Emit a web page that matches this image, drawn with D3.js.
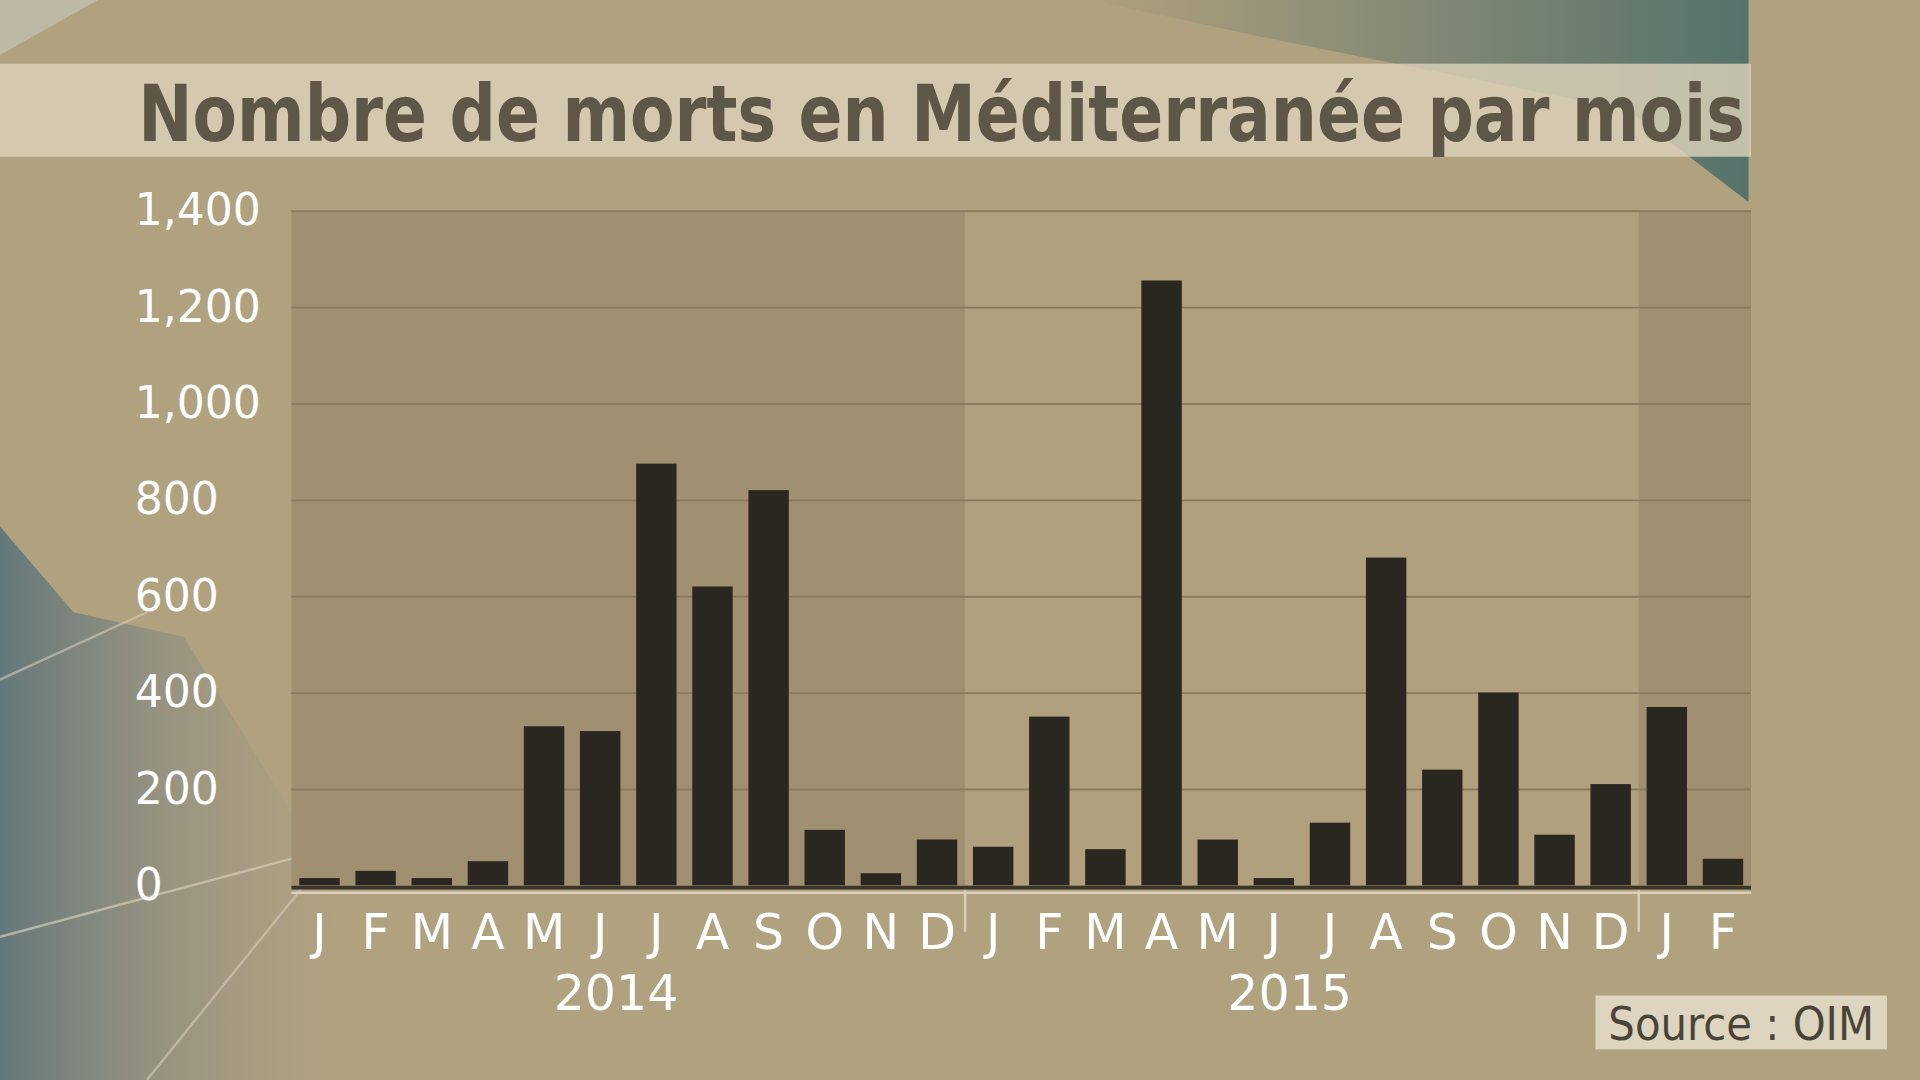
<!DOCTYPE html>
<html><head><meta charset="utf-8">
<script src="https://cdn.jsdelivr.net/npm/d3@7"></script>
<style>body{margin:0;background:#b0a17f;overflow:hidden}</style>
</head><body><div id="chart"></div>
<script>
const months = ["J","F","M","A","M","J","J","A","S","O","N","D","J","F","M","A","M","J","J","A","S","O","N","D","J","F"];
const deaths = [15,30,15,50,330,320,875,620,820,115,25,95, 80,350,75,1255,95,15,130,680,240,400,105,210, 370,55];
const years = [{label:"2014", from:0, to:12, shade:"#a08f70"}, {label:"2015", from:12, to:24, shade:"#b0a07e"}, {label:"", from:24, to:26, shade:"#a08f70"}];
const yTicks = [0,200,400,600,800,1000,1200,1400];

const W = 1568, H = 882;
const margin = {top: 172, right: 138, bottom: 159, left: 238};

const svg = d3.select("#chart").append("svg")
  .attr("width", 1920).attr("height", 1080)
  .attr("viewBox", `0 0 ${W} ${H}`);

// background + decorative shapes
svg.append("rect").attr("width", W).attr("height", H).attr("fill", "#b0a17f");
let defs = svg.append("defs");
let g1 = defs.append("linearGradient").attr("id","lg1").attr("x1",0).attr("y1",0).attr("x2",1).attr("y2",0);
g1.append("stop").attr("offset","0").attr("stop-color","#56707a");
g1.append("stop").attr("offset","1").attr("stop-color","#b8a488").attr("stop-opacity",0.2);
svg.append("path").attr("d","M0,430 L60,500 L150,520 L260,700 L300,882 L0,882 Z").attr("fill","url(#lg1)").attr("opacity",0.85);
let g2 = defs.append("linearGradient").attr("id","lg2").attr("x1",0).attr("y1",0).attr("x2",1).attr("y2",0);
g2.append("stop").attr("offset","0").attr("stop-color","#b0a07e");
g2.append("stop").attr("offset","1").attr("stop-color","#3f6766");
svg.append("path").attr("d","M890,0 L1428,0 L1428,165 L1330,90 L1030,30 Z").attr("fill","url(#lg2)").attr("opacity",0.8);
svg.append("path").attr("d","M0,0 L80,0 L0,45 Z").attr("fill","#c9d1cc").attr("opacity",0.5);
svg.append("line").attr("x1",0).attr("y1",765).attr("x2",280).attr("y2",690).attr("stroke","#d7cdb8").attr("stroke-width",2).attr("opacity",0.7);
svg.append("line").attr("x1",0).attr("y1",555).attr("x2",120).attr("y2",500).attr("stroke","#d7cdb8").attr("stroke-width",2).attr("opacity",0.6);
svg.append("line").attr("x1",120).attr("y1",882).attr("x2",275).attr("y2",690).attr("stroke","#d7cdb8").attr("stroke-width",2).attr("opacity",0.6);

// title band
svg.append("rect").attr("x",0).attr("y",52).attr("width",1430).attr("height",76).attr("fill","#ddd3bb").attr("opacity",0.8);
svg.append("text").attr("x",113).attr("y",115).attr("textLength",1312).attr("lengthAdjust","spacingAndGlyphs")
  .attr("font-family","DejaVu Sans Condensed").attr("font-weight","bold").attr("font-size",64)
  .attr("fill","#5e5646").text("Nombre de morts en Méditerranée par mois");

const x0 = margin.left;
const cellW = (W - margin.right - x0) / deaths.length;
const y = d3.scaleLinear().domain([0,1400]).range([H - margin.bottom, margin.top]);

// year shading
svg.selectAll("rect.shade").data(years).join("rect").attr("class","shade")
  .attr("x", d => x0 + d.from * cellW)
  .attr("width", d => (d.to - d.from) * cellW)
  .attr("y", y(1400)).attr("height", y(0) - y(1400)).attr("fill", d => d.shade);

// gridlines + y labels
const yAxis = d3.axisLeft(y).tickValues(yTicks).tickSize(-(W - margin.right - margin.left)).tickFormat(d3.format(","));
const ya = svg.append("g").attr("transform", `translate(${margin.left},0)`).call(yAxis);
ya.select(".domain").remove();
ya.selectAll(".tick line").attr("stroke","#8a7b60").attr("stroke-width",1.5);
ya.selectAll(".tick text").attr("text-anchor","start").attr("x", 110 - margin.left).attr("dy","0.32em")
  .attr("font-family","DejaVu Sans").attr("font-size",36).attr("fill","#ffffff");

// bars
svg.selectAll("rect.bar").data(deaths).join("rect").attr("class","bar")
  .attr("x", (d,i) => x0 + i*cellW + cellW*0.14)
  .attr("width", cellW*0.72)
  .attr("y", d => y(d)).attr("height", d => y(0) - y(d))
  .attr("fill","#2a2720");

// baseline
svg.append("line").attr("x1",x0).attr("x2",W - margin.right).attr("y1",y(0)+2).attr("y2",y(0)+2)
  .attr("stroke","#3a3628").attr("stroke-width",3);
svg.append("line").attr("x1",x0).attr("x2",W - margin.right).attr("y1",y(0)+6).attr("y2",y(0)+6)
  .attr("stroke","#d9d0bb").attr("stroke-width",2);
[12,24].forEach(i => svg.append("line").attr("x1",x0+i*cellW).attr("x2",x0+i*cellW)
  .attr("y1",y(0)+4).attr("y2",y(0)+38).attr("stroke","#d9d0bb").attr("stroke-width",2));

// month labels
svg.selectAll("text.month").data(months).join("text").attr("class","month")
  .attr("x",(d,i) => x0 + (i+0.5)*cellW).attr("y", y(0)+52).attr("text-anchor","middle")
  .attr("font-family","DejaVu Sans").attr("font-size",40).attr("fill","#ffffff").text(d => d);
svg.selectAll("text.year").data(years.filter(d => d.label)).join("text").attr("class","year")
  .attr("x", d => x0 + (d.from + d.to)/2*cellW - 10).attr("y", y(0)+102).attr("text-anchor","middle")
  .attr("font-family","DejaVu Sans").attr("font-size",40).attr("fill","#ffffff").text(d => d.label);

// source
svg.append("rect").attr("x",1303).attr("y",813).attr("width",238).attr("height",44).attr("fill","#ddd5c0");
svg.append("text").attr("x",1422).attr("y",849).attr("text-anchor","middle")
  .attr("font-family","DejaVu Sans Condensed").attr("font-size",38).attr("fill","#4a4438").text("Source : OIM");
</script></body></html>
